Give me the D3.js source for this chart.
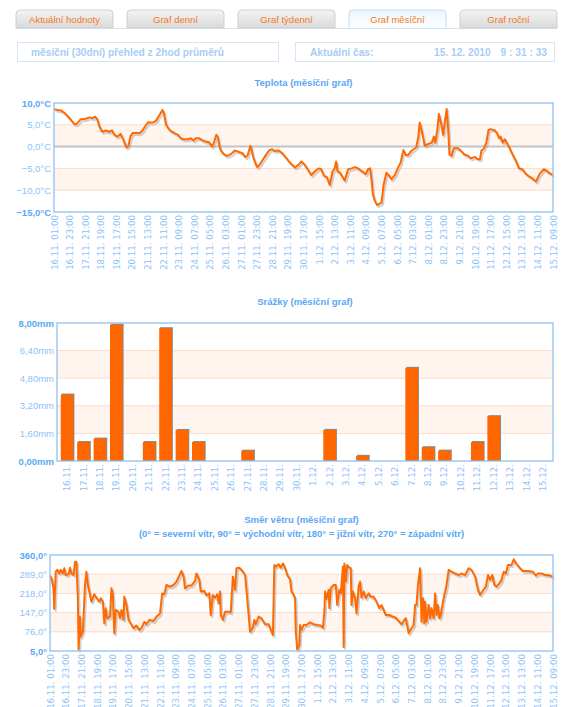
<!DOCTYPE html>
<html>
<head>
<meta charset="utf-8">
<script src="https://cdn.jsdelivr.net/npm/d3@7/dist/d3.min.js"></script>
<style>
    body { margin: 0; background: #fff; }
    svg text { font-family: "Liberation Sans", Arial, sans-serif; }
    .xlab text { font-family: "DejaVu Sans", Verdana, sans-serif; }
</style>
</head>
<body>
<svg id="chart" width="562" height="707"></svg>
<script>
// záložky a hlavička
const zalozky = ['Aktuální hodnoty', 'Graf denní', 'Graf týdenní', 'Graf měsíční', 'Graf roční'];
const aktivni = 3;
const prehledText = 'měsíční (30dní) přehled z 2hod průměrů';
const casText = 'Aktuální čas:';
const datumText = '15. 12. 2010';
const hodinyText = '9 : 31 : 33';

// popisky osy x (po 22 hodinách od 16.11. 01:00)
const casovePopisky = ['16.11. 01:00', '16.11. 23:00', '17.11. 21:00', '18.11. 19:00', '19.11. 17:00',
    '20.11. 15:00', '21.11. 13:00', '22.11. 11:00', '23.11. 09:00', '24.11. 07:00', '25.11. 05:00',
    '26.11. 03:00', '27.11. 01:00', '27.11. 23:00', '28.11. 21:00', '29.11. 19:00', '30.11. 17:00',
    '1.12. 15:00', '2.12. 13:00', '3.12. 11:00', '4.12. 09:00', '5.12. 07:00', '6.12. 05:00',
    '7.12. 03:00', '8.12. 01:00', '8.12. 23:00', '9.12. 21:00', '10.12. 19:00', '11.12. 17:00',
    '12.12. 15:00', '13.12. 13:00', '14.12. 11:00', '15.12. 09:00'];
const krokPopisku = 22; // hodin
const celkemHodin = 704;

// teplota: [hodina od začátku, °C]
const teplota = [[0,8.6],[5,8.4],[10,8.3],[15,7.7],[22,6.5],[29,5.1],[32,5.2],[38,6.3],[45,6.4],[50,6.7],
    [55,6.5],[58,6.9],[61,6.3],[64,4.6],[68,3.4],[73,3.7],[78,3.4],[82,3.7],[85,2.7],[90,2.3],[94,2.9],
    [98,1.5],[102,-0.2],[105,0.2],[108,2.4],[111,3.1],[116,3.1],[121,3.1],[125,3.7],[130,5.0],[133,5.6],
    [139,5.5],[144,5.9],[148,7.0],[153,8.4],[155,7.7],[158,5.0],[163,3.8],[170,3.1],[175,2.7],[179,1.9],
    [183,1.7],[189,1.7],[193,1.9],[197,1.4],[200,1.9],[205,1.9],[209,1.5],[215,1.1],[219,1.0],[223,0],
    [226,1.1],[229,2.7],[231,2.3],[234,-0.4],[238,-1.5],[243,-2.1],[247,-2.0],[252,-1.4],[255,-0.9],
    [259,-1.1],[264,-1.4],[266,-1.5],[270,-2.4],[273,-2.1],[277,0.2],[278,-0.2],[281,-2.4],[285,-4.2],
    [287,-4.7],[290,-4.2],[294,-3.2],[299,-1.9],[304,-0.8],[308,-0.6],[311,-1.0],[317,-0.9],[322,-1.5],
    [328,-2.7],[333,-3.7],[340,-4.8],[345,-4.2],[349,-3.4],[354,-4.2],[359,-5.5],[363,-6.5],[368,-5.7],
    [373,-5.0],[377,-5.2],[381,-6.7],[385,-7.0],[389,-8.8],[393,-5.7],[396,-5.0],[398,-3.4],[400,-5.7],
    [404,-6.1],[410,-7.8],[415,-5.2],[420,-5.0],[425,-4.7],[429,-5.0],[434,-5.6],[440,-6.3],[443,-5.2],
    [446,-5.0],[448,-7.7],[450,-11.1],[453,-12.6],[456,-13.4],[460,-13.0],[462,-12.9],[465,-8.8],
    [469,-6.0],[473,-6.7],[476,-7.5],[481,-6.5],[486,-4.6],[489,-3.7],[493,-0.8],[496,-1.9],[500,-1.9],
    [504,-1.0],[511,-0.2],[514,2.3],[516,5.5],[520,2.7],[523,0.2],[528,0.6],[533,0.9],[536,2.3],[538,0.9],
    [541,4.2],[543,7.5],[547,4.6],[549,2.7],[551,5.2],[554,8.6],[556,4.2],[558,-1.9],[561,-2.1],[564,-0.4],
    [570,-0.4],[575,-1.1],[579,-1.8],[584,-2.1],[588,-2.7],[594,-2.4],[598,-2.9],[601,-2.9],[603,-0.9],
    [606,-0.6],[610,0.9],[613,3.8],[616,4.0],[622,3.7],[625,3.1],[628,1.9],[630,2.3],[633,0.9],[636,1.7],
    [641,0.2],[646,-1.5],[652,-3.4],[656,-5.0],[661,-5.2],[666,-6.3],[671,-6.9],[675,-7.3],[680,-8.0],
    [685,-6.3],[691,-5.2],[695,-5.5],[699,-6.1],[704,-6.5]];
const teplotaTicks = [-15, -10, -5, 0, 5, 10];

// srážky po dnech
const srazkyDny = ['16.11.', '17.11.', '18.11.', '19.11.', '20.11.', '21.11.', '22.11.', '23.11.', '24.11.',
    '25.11.', '26.11.', '27.11.', '28.11.', '29.11.', '30.11.', '1.12.', '2.12.', '3.12.', '4.12.', '5.12.',
    '6.12.', '7.12.', '8.12.', '9.12.', '10.12.', '11.12.', '12.12.', '13.12.', '14.12.', '15.12.'];
const srazky = [3.85, 1.1, 1.3, 7.9, 0, 1.1, 7.7, 1.8, 1.1, 0, 0, 0.6, 0, 0, 0,
    0, 1.8, 0, 0.3, 0, 0, 5.4, 0.8, 0.6, 0, 1.1, 2.6, 0, 0, 0];
const srazkyTicks = [0, 1.6, 3.2, 4.8, 6.4, 8];

// směr větru: [hodina od začátku, stupně]
const vitr = [[0,284],[2,274],[5,237],[6,160],[8,298],[10,305],[13,292],[15,305],[18,292],[20,311],[22,286],
    [26,289],[28,313],[30,292],[33,286],[35,335],[37,335],[39,200],[40,10],[42,132],[43,58],[46,76],[49,249],
    [51,298],[53,249],[56,212],[58,187],[62,215],[65,202],[69,187],[71,200],[74,187],[76,107],[78,163],
    [80,126],[84,132],[86,237],[88,212],[90,70],[92,157],[96,150],[98,126],[100,157],[103,120],[104,206],
    [107,175],[110,120],[113,107],[117,89],[121,99],[125,83],[128,89],[132,113],[135,104],[139,120],
    [145,116],[149,132],[154,144],[157,218],[160,215],[163,249],[168,243],[173,249],[177,261],[181,284],
    [184,301],[187,280],[189,237],[194,247],[198,247],[203,264],[205,292],[209,268],[211,225],[216,227],
    [219,210],[223,218],[225,138],[228,212],[231,202],[234,215],[236,181],[238,225],[239,138],[242,120],
    [245,150],[250,150],[253,148],[256,280],[259,231],[261,311],[265,313],[270,298],[273,286],[276,200],
    [280,76],[284,91],[286,120],[288,104],[292,132],[296,126],[301,104],[306,104],[309,83],[312,64],
    [314,323],[316,317],[320,326],[323,313],[326,329],[329,311],[332,286],[336,270],[338,225],[341,212],
    [343,200],[344,76],[346,10],[349,27],[350,101],[352,83],[355,101],[359,101],[364,111],[369,104],
    [374,101],[379,99],[382,91],[384,150],[385,225],[387,197],[390,231],[391,163],[393,237],[397,249],
    [400,249],[402,175],[405,231],[407,218],[410,317],[411,20],[412,329],[414,262],[416,323],[419,313],
    [421,311],[422,175],[424,225],[427,200],[429,144],[432,243],[434,261],[436,202],[439,225],[442,200],
    [446,218],[449,206],[453,206],[457,187],[461,163],[464,175],[468,150],[470,138],[475,138],[480,132],
    [484,128],[489,113],[492,104],[496,120],[498,126],[502,70],[503,76],[506,89],[509,101],[511,175],
    [513,175],[515,249],[518,311],[520,113],[522,200],[524,107],[525,187],[527,113],[530,175],[532,126],
    [534,163],[537,126],[539,218],[541,138],[543,175],[545,126],[547,138],[550,187],[552,212],[555,249],
    [558,305],[562,298],[567,292],[572,286],[576,292],[581,286],[586,311],[590,305],[595,280],[599,231],
    [602,212],[605,225],[610,243],[613,286],[616,268],[619,286],[622,249],[625,243],[629,255],[632,268],
    [635,298],[638,292],[641,323],[646,323],[649,344],[653,326],[658,311],[662,301],[669,301],[676,298],
    [680,284],[683,292],[688,292],[693,286],[697,286],[704,280]];
const vitrTicks = [5, 76, 147, 218, 289, 360];

const svg = d3.select('#chart');

const modra = '#5aa8f5';
const modraSvetla = '#8cc2f8';
const oranzova = '#ff6a00';

// --- záložky ---
const tabX = d3.scaleBand().domain(zalozky).range([16, 557]).paddingInner(0.126);
const tabs = svg.append('g');
const defs = svg.append('defs');
const gTab = defs.append('linearGradient').attr('id', 'tabGrad').attr('x2', 0).attr('y2', 1);
gTab.append('stop').attr('offset', 0).attr('stop-color', '#f4f4f4');
gTab.append('stop').attr('offset', 1).attr('stop-color', '#d9d9d9');
const gAkt = defs.append('linearGradient').attr('id', 'tabAkt').attr('x2', 0).attr('y2', 1);
gAkt.append('stop').attr('offset', 0).attr('stop-color', '#eaf5ff');
gAkt.append('stop').attr('offset', 1).attr('stop-color', '#ffffff');

tabs.append('line')
    .attr('x1', 16).attr('x2', 557).attr('y1', 28.5).attr('y2', 28.5)
    .attr('stroke', '#cfe4f8');

zalozky.forEach((z, i) => {
    const x = tabX(z), w = tabX.bandwidth(), y0 = 10, y1 = 28, r = 4;
    tabs.append('path')
        .attr('d', `M${x},${y1} L${x},${y0 + r} Q${x},${y0} ${x + r},${y0} L${x + w - r},${y0} Q${x + w},${y0} ${x + w},${y0 + r} L${x + w},${y1} ${i === aktivni ? 'M' : 'Z'}`)
        .attr('fill', i === aktivni ? 'url(#tabAkt)' : 'url(#tabGrad)')
        .attr('stroke', i === aktivni ? '#bcdcf6' : '#d0d0d0');
    tabs.append('text')
        .attr('x', x + w / 2).attr('y', 22.5)
        .attr('text-anchor', 'middle')
        .style('font-size', '9.5px')
        .attr('fill', '#f27a20')
        .text(z);
});

// --- informační rámečky ---
svg.append('rect').attr('x', 17.5).attr('y', 42.5).attr('width', 261).attr('height', 19)
    .attr('fill', '#fff').attr('stroke', '#d2e6f8');
svg.append('rect').attr('x', 295.5).attr('y', 42.5).attr('width', 259).attr('height', 19)
    .attr('fill', '#fff').attr('stroke', '#d2e6f8');
const infoStyl = sel => sel.style('font-size', '10.2px').style('font-weight', 'bold').attr('fill', '#a9cdf3');
svg.append('text').attr('x', 31).attr('y', 56).text(prehledText).call(infoStyl);
svg.append('text').attr('x', 310).attr('y', 56).text(casText).call(infoStyl);
svg.append('text').attr('x', 434).attr('y', 56).text(datumText).call(infoStyl);
svg.append('text').attr('x', 547).attr('y', 56).attr('text-anchor', 'end').text(hodinyText).call(infoStyl);

// --- společné kreslení pozadí grafu ---
function pozadi(g, y, ticks, x0, x1, format, nulovaCara) {
    // pruhy mezi ticks[1]-ticks[2] a ticks[3]-ticks[4]
    [1, 3].forEach(i => {
        g.append('rect')
            .attr('x', x0).attr('width', x1 - x0)
            .attr('y', y(ticks[i + 1])).attr('height', y(ticks[i]) - y(ticks[i + 1]))
            .attr('fill', '#fff4ee');
    });
    ticks.slice(1, -1).forEach(t => {
        g.append('line')
            .attr('x1', x0).attr('x2', x1).attr('y1', y(t)).attr('y2', y(t))
            .attr('stroke', nulovaCara && t === 0 ? '#c4c4c4' : '#fbdccc')
            .attr('stroke-width', nulovaCara && t === 0 ? 2 : 1);
    });
    const osa = g.append('g')
        .attr('transform', `translate(${x0},0)`)
        .call(d3.axisLeft(y).tickValues(ticks).tickSize(0).tickPadding(3).tickFormat(format));
    osa.select('.domain').remove();
    osa.selectAll('text')
        .style('font-size', '9.5px')
        .attr('fill', (d, i) => (i === 0 || i === ticks.length - 1) ? modra : modraSvetla)
        .style('font-weight', (d, i) => (i === 0 || i === ticks.length - 1) ? 'bold' : 'normal');
}

function ramecek(g, x0, x1, y0, y1) {
    g.append('rect')
        .attr('x', x0).attr('y', y0).attr('width', x1 - x0).attr('height', y1 - y0)
        .attr('fill', 'none').attr('stroke', '#8fc0f2').attr('stroke-width', 1.3);
}

function titulek(g, x, y, radky) {
    radky.forEach((r, i) => {
        g.append('text')
            .attr('x', x).attr('y', y + i * 13.5)
            .attr('text-anchor', 'middle')
            .style('font-size', '9.5px').style('font-weight', 'bold')
            .attr('fill', modra)
            .text(r);
    });
}

function casovaOsa(g, x, y1) {
    const osa = g.append('g')
        .attr('class', 'xlab')
        .attr('transform', `translate(0,${y1})`)
        .call(d3.axisBottom(x)
            .tickValues(casovePopisky.map((d, i) => i * krokPopisku))
            .tickSize(0)
            .tickFormat((d, i) => casovePopisky[i]));
    osa.select('.domain').remove();
    osa.selectAll('text')
        .attr('transform', 'rotate(-90)')
        .attr('text-anchor', 'end')
        .attr('x', -3).attr('y', 0).attr('dy', '0.35em')
        .style('font-size', '8.6px')
        .attr('fill', modraSvetla);
}

function krivka(g, x, y, data) {
    const line = d3.line().x(d => x(d[0])).y(d => y(d[1])).curve(d3.curveLinear);
    g.append('path').datum(data)
        .attr('d', line)
        .attr('transform', 'translate(1.5,2)')
        .attr('fill', 'none').attr('stroke', '#999').attr('stroke-opacity', 0.45)
        .attr('stroke-width', 2).attr('stroke-linejoin', 'round');
    g.append('path').datum(data)
        .attr('d', line)
        .attr('fill', 'none').attr('stroke', oranzova)
        .attr('stroke-width', 2).attr('stroke-linejoin', 'round');
}

// --- teplota ---
{
    const g = svg.append('g');
    const x0 = 54, x1 = 553, y0 = 103, y1 = 212;
    const x = d3.scaleLinear().domain([0, celkemHodin]).range([x0, x1]);
    const y = d3.scaleLinear().domain([-15, 10]).range([y1, y0]);
    titulek(g, (x0 + x1) / 2, 86, ['Teplota (měsíční graf)']);
    pozadi(g, y, teplotaTicks, x0, x1, d => d3.format('.1f')(d).replace('.', ',') + '°C', true);
    krivka(g, x, y, teplota);
    ramecek(g, x0, x1, y0, y1);
    casovaOsa(g, x, y1);
}

// --- srážky ---
{
    const g = svg.append('g');
    const x0 = 57, x1 = 553, y0 = 323, y1 = 461;
    const x = d3.scaleBand().domain(srazkyDny).range([x0, x1]).padding(0.23);
    const y = d3.scaleLinear().domain([0, 8]).range([y1, y0]);
    titulek(g, (x0 + x1) / 2, 305, ['Srážky (měsíční graf)']);
    pozadi(g, y, srazkyTicks, x0, x1, d => d3.format('.2f')(d).replace('.', ',') + 'mm', false);
    const data = srazkyDny.map((d, i) => ({ den: d, v: srazky[i] })).filter(d => d.v > 0);
    g.selectAll('rect.stin').data(data).enter().append('rect')
        .attr('class', 'stin')
        .attr('x', d => x(d.den) + 1).attr('y', d => y(d.v) - 1)
        .attr('width', x.bandwidth()).attr('height', d => y1 - y(d.v) + 1)
        .attr('fill', '#8a8a8a');
    g.selectAll('rect.bar').data(data).enter().append('rect')
        .attr('class', 'bar')
        .attr('x', d => x(d.den)).attr('y', d => y(d.v))
        .attr('width', x.bandwidth()).attr('height', d => y1 - y(d.v))
        .attr('fill', '#ff6600');
    ramecek(g, x0, x1, y0, y1);
    const osa = g.append('g')
        .attr('class', 'xlab')
        .attr('transform', `translate(0,${y1})`)
        .call(d3.axisBottom(x).tickSize(0));
    osa.select('.domain').remove();
    osa.selectAll('text')
        .attr('transform', 'rotate(-90)')
        .attr('text-anchor', 'end')
        .attr('x', -3).attr('y', 0).attr('dy', '0.35em')
        .style('font-size', '8.6px')
        .attr('fill', modraSvetla);
}

// --- směr větru ---
{
    const g = svg.append('g');
    const x0 = 50, x1 = 553, y0 = 555, y1 = 651;
    const x = d3.scaleLinear().domain([0, celkemHodin]).range([x0, x1]);
    const y = d3.scaleLinear().domain([5, 360]).range([y1, y0]);
    titulek(g, (x0 + x1) / 2, 523, ['Směr větru (měsíční graf)',
        '(0° = severní vítr, 90° = východní vítr, 180° = jižní vítr, 270° = západní vítr)']);
    pozadi(g, y, vitrTicks, x0, x1, d => d3.format('.1f')(d).replace('.', ',') + '°', false);
    krivka(g, x, y, vitr);
    ramecek(g, x0, x1, y0, y1);
    casovaOsa(g, x, y1);
}
</script>
</body>
</html>
